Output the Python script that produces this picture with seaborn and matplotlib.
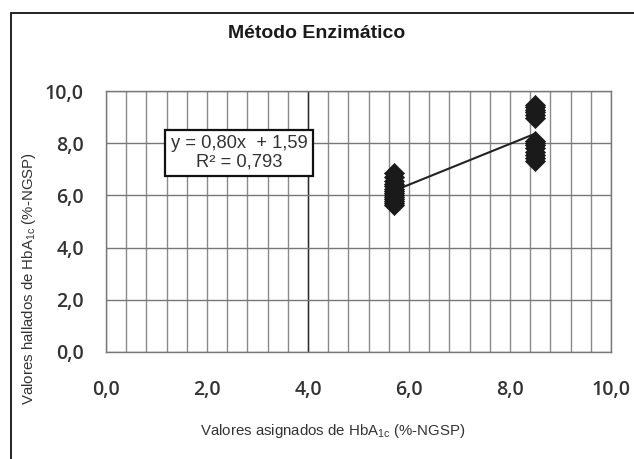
import matplotlib
matplotlib.use("Agg")
import matplotlib.pyplot as plt
import seaborn as sns
import numpy as np
import pandas as pd
from matplotlib.lines import Line2D

# ---- data ----
x_low = [5.7] * 14
y_low = [5.65, 5.72, 5.80, 5.88, 5.95, 6.02, 6.10, 6.18, 6.26, 6.35, 6.45, 6.56, 6.70, 6.84]
x_high = [8.5] * 14
y_high = [7.30, 7.42, 7.55, 7.68, 7.80, 7.92, 8.00, 8.08, 8.97, 9.08, 9.18, 9.28, 9.38, 9.48]

x_ticks = [0, 2, 4, 6, 8, 10]
x_ticklabels = ["0,0", "2,0", "4,0", "6,0", "8,0", "10,0"]
y_ticks = [0, 2, 4, 6, 8, 10]
y_ticklabels = ["0,0", "2,0", "4,0", "6,0", "8,0", "10,0"]

title = "Método Enzimático"
xlabel = r"Valores asignados de HbA$\mathregular{_{1c}}$ (%-NGSP)"
ylabel = r"Valores hallados de HbA$\mathregular{_{1c}}$ (%-NGSP)"
eq_text = "y = 0,80x  + 1,59\nR² = 0,793"

df = pd.DataFrame({"x": x_low + x_high, "y": y_low + y_high})

sns.set_theme(style="white")
plt.rcParams["font.family"] = ["Liberation Sans", "DejaVu Sans"]

fig = plt.figure(figsize=(6.34, 4.59), dpi=100)
ax = fig.add_axes([106 / 634, 1 - 352 / 459, 505 / 634, 261 / 459])

# grid
minor_x = np.arange(0, 10.01, 0.4)
for xv in minor_x:
    ax.axvline(xv, color="#8a8a8a", lw=1.0, zorder=1)
ax.axvline(4.0, color="#2a2a2a", lw=1.0, zorder=1)
for yv in y_ticks:
    ax.axhline(yv, color="#777777", lw=1.0, zorder=1)

sns.regplot(data=df, x="x", y="y", scatter=False, ci=None, ax=ax,
            color="#222222", line_kws={"lw": 1.5, "zorder": 2})
sns.scatterplot(data=df, x="x", y="y", marker="D", s=105, color="#1a1a1a",
                edgecolor="#1a1a1a", linewidth=0.5, ax=ax, zorder=3)

ax.set_xlim(0, 10)
ax.set_ylim(0, 10)
ax.set_xticks(x_ticks)
ax.set_xticklabels(x_ticklabels)
ax.set_yticks(y_ticks)
ax.set_yticklabels(y_ticklabels)
ax.tick_params(axis="both", length=0, labelcolor="#333333")
ax.tick_params(axis="x", pad=20)
ax.tick_params(axis="y", pad=16)
for lab in ax.get_xticklabels() + ax.get_yticklabels():
    lab.set_family(["Open Sans", "DejaVu Sans"])
    lab.set_fontsize(14)
    lab.set_fontweight("semibold")

for sp in ax.spines.values():
    sp.set_color("#777777")
    sp.set_linewidth(1.0)

ax.set_xlabel(xlabel, fontsize=10.8, color="#333333")
ax.set_ylabel(ylabel, fontsize=10.8, color="#333333")
ax.xaxis.set_label_coords((333 - 106) / 505, (352 - 431) / 261)
ax.yaxis.set_label_coords((29 - 106) / 505, (352 - 279) / 261)
ax.xaxis.label.set_va("center")
ax.yaxis.label.set_va("center")

ax.text((239 - 106) / 505, (352 - 153) / 261, eq_text, transform=ax.transAxes,
        ha="center", va="center", fontsize=13.2, color="#333333", linespacing=1.1,
        zorder=5,
        bbox=dict(boxstyle="square,pad=0.3", facecolor="white",
                  edgecolor="#111111", linewidth=1.6))

fig.text(317 / 634, 1 - 33 / 459, title, ha="center", va="center",
         fontsize=14, fontweight="bold", color="#1a1a1a")

# outer frame (left and top lines)
fig.add_artist(Line2D([11 / 634, 11 / 634], [0, 1 - 13 / 459], color="#222222", lw=1.4))
fig.add_artist(Line2D([11 / 634, 1], [1 - 13 / 459, 1 - 13 / 459], color="#222222", lw=1.4))

fig.savefig("out.png", dpi=100)
